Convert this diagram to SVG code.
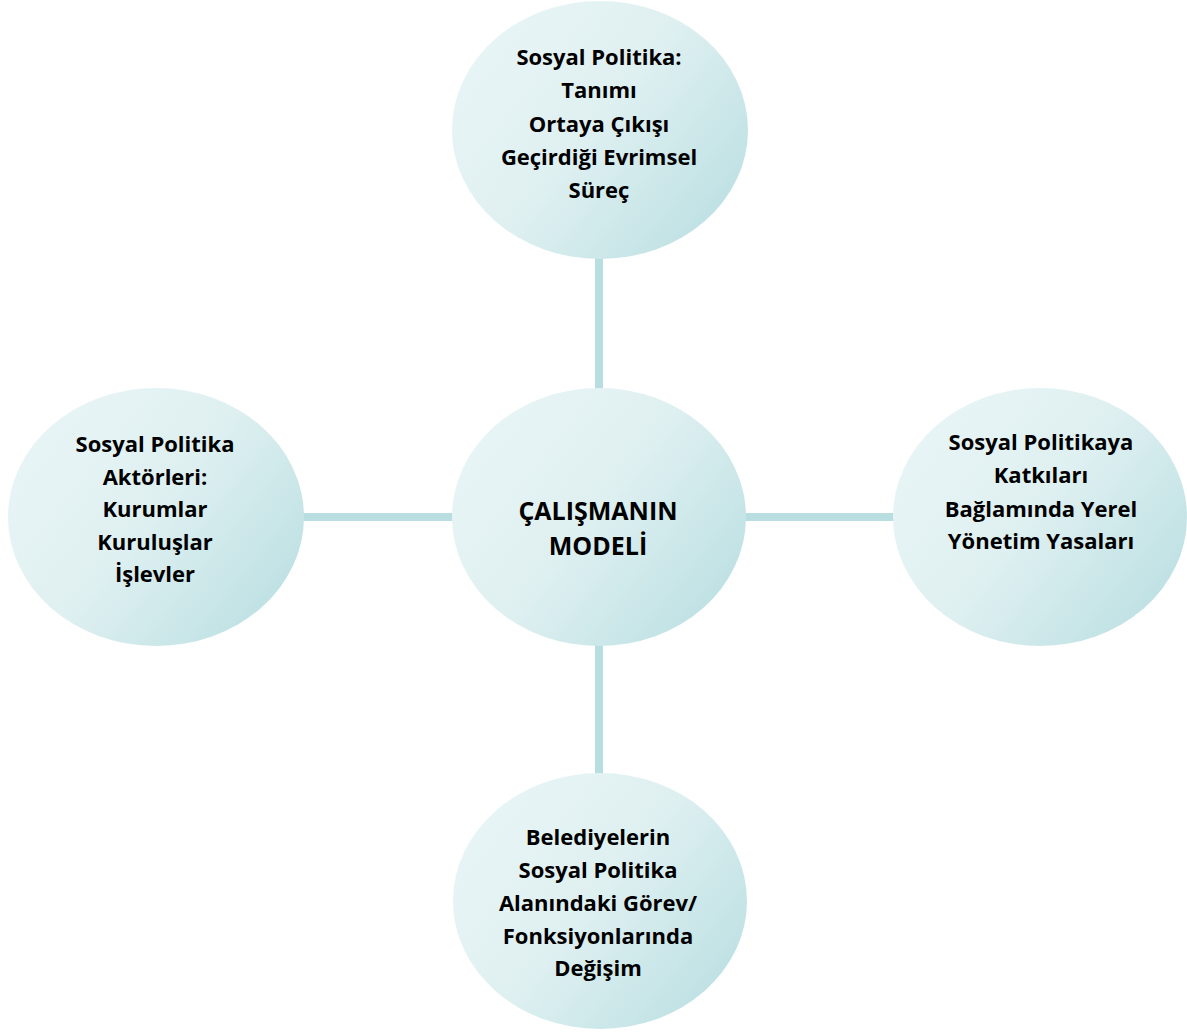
<svg xmlns="http://www.w3.org/2000/svg" width="1187" height="1032" viewBox="0 0 1187 1032">
<defs>
<linearGradient id="g" x1="0" y1="0.2" x2="1" y2="0.9">
<stop offset="0" stop-color="#e9f5f6"/>
<stop offset="0.45" stop-color="#dff0f1"/>
<stop offset="1" stop-color="#b8dee1"/>
</linearGradient>
<style>
.n{fill:url(#g);}
.t{font-family:"Open Sans",Lato,sans-serif;font-weight:bold;font-size:22px;fill:#000;text-anchor:middle;}
.m{font-size:25px;}
.c{stroke:#b8dee1;stroke-width:8;fill:none;}
</style>
</defs>
<rect width="1187" height="1032" fill="#fff"/>
<g id="connectors">
<line class="c" x1="599" y1="255" x2="599" y2="392"/>
<line class="c" x1="599" y1="642" x2="599" y2="776"/>
<line class="c" x1="300" y1="517" x2="456" y2="517"/>
<line class="c" x1="742" y1="517" x2="897" y2="517"/>
</g>
<g id="top">
<ellipse class="n" cx="600" cy="130" rx="148" ry="129"/>
<text class="t" x="599" y="65">Sosyal Politika:</text>
<text class="t" x="599" y="98">Tanımı</text>
<text class="t" x="599" y="132">Ortaya Çıkışı</text>
<text class="t" x="599" y="165">Geçirdiği Evrimsel</text>
<text class="t" x="599" y="198">Süreç</text>
</g>
<g id="center">
<ellipse class="n" cx="599" cy="517" rx="147" ry="129"/>
<text class="t m" x="598" y="520">ÇALIŞMANIN</text>
<text class="t m" x="598" y="555">MODELİ</text>
</g>
<g id="left">
<ellipse class="n" cx="156" cy="517" rx="148" ry="129"/>
<text class="t" x="155" y="452">Sosyal Politika</text>
<text class="t" x="155" y="485">Aktörleri:</text>
<text class="t" x="155" y="517">Kurumlar</text>
<text class="t" x="155" y="550">Kuruluşlar</text>
<text class="t" x="155" y="582">İşlevler</text>
</g>
<g id="right">
<ellipse class="n" cx="1040" cy="517" rx="147" ry="129"/>
<text class="t" x="1041" y="450">Sosyal Politikaya</text>
<text class="t" x="1041" y="483">Katkıları</text>
<text class="t" x="1041" y="517">Bağlamında Yerel</text>
<text class="t" x="1041" y="549">Yönetim Yasaları</text>
</g>
<g id="bottom">
<ellipse class="n" cx="600" cy="901" rx="147" ry="128"/>
<text class="t" x="598" y="845">Belediyelerin</text>
<text class="t" x="598" y="878">Sosyal Politika</text>
<text class="t" x="598" y="911">Alanındaki Görev/</text>
<text class="t" x="598" y="944">Fonksiyonlarında</text>
<text class="t" x="598" y="976">Değişim</text>
</g>
</svg>
